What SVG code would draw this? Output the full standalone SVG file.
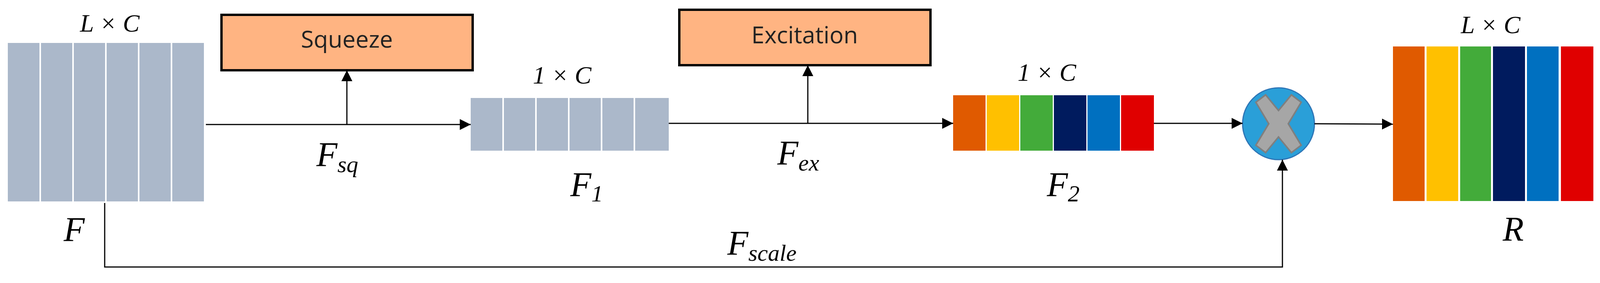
<svg xmlns="http://www.w3.org/2000/svg" width="4102" height="725" viewBox="0 0 4102 725">
<style>
.m{font-family:"Liberation Serif",serif;font-style:italic;fill:#000}
.b{font-family:"Open Sans","Liberation Sans",sans-serif;font-size:60px;fill:#222;text-anchor:middle}
.box{fill:#FFB482;stroke:#000;stroke-width:6}
.g{fill:#ABB8CA}
.ln{stroke:#000;stroke-width:3;fill:none}
</style>
<defs>
<marker id="ah" markerWidth="10" markerHeight="10" refX="9" refY="5" orient="auto" markerUnits="userSpaceOnUse" viewBox="0 0 10 10" >
<path d="M0,0 L10,5 L0,10 z" fill="#000"/>
</marker>
<marker id="a" viewBox="0 0 10 10" refX="10" refY="5" markerWidth="28" markerHeight="28" markerUnits="userSpaceOnUse" orient="auto"><path d="M0,0 L10,5 L0,10 z" fill="#000"/></marker>
</defs>
<g id="F">
<rect class="g" x="20" y="110" width="81" height="406"/><rect class="g" x="105" y="110" width="80" height="406"/><rect class="g" x="189" y="110" width="80" height="406"/><rect class="g" x="273" y="110" width="80" height="406"/><rect class="g" x="357" y="110" width="80" height="406"/><rect class="g" x="441" y="110" width="81" height="406"/>
<text class="m" x="281" y="81" font-size="64" text-anchor="middle">L × C</text>
<text class="m" x="190" y="617" font-size="88" text-anchor="middle">F</text>
</g>
<g id="squeeze"><rect class="box" x="567" y="38" width="643" height="142"/><text class="b" x="888" y="122">Squeeze</text></g>
<g id="excitation"><rect class="box" x="1739" y="25" width="643" height="142"/><text class="b" x="2060" y="111">Excitation</text></g>
<g id="F1">
<rect class="g" x="1205" y="251" width="81" height="135"/><rect class="g" x="1290" y="251" width="80" height="135"/><rect class="g" x="1374" y="251" width="80" height="135"/><rect class="g" x="1458" y="251" width="80" height="135"/><rect class="g" x="1542" y="251" width="80" height="135"/><rect class="g" x="1626" y="251" width="86" height="135"/>
<text class="m" x="1439" y="214" font-size="64" text-anchor="middle">1 × C</text>
<text class="m" x="1460" y="502" font-size="88">F<tspan font-size="60" dy="14">1</tspan></text>
</g>
<g id="F2">
<rect fill="#E05A00" x="2440" y="244" width="83" height="142"/><rect fill="#FFC000" x="2526" y="244" width="83" height="142"/><rect fill="#43AB3A" x="2612" y="244" width="83" height="142"/><rect fill="#001B5E" x="2698" y="244" width="83" height="142"/><rect fill="#0070C0" x="2784" y="244" width="83" height="142"/><rect fill="#E00000" x="2870" y="244" width="84" height="142"/>
<text class="m" x="2680" y="207" font-size="64" text-anchor="middle">1 × C</text>
<text class="m" x="2680" y="502" font-size="88">F<tspan font-size="60" dy="14">2</tspan></text>
</g>
<g id="mult">
<circle cx="3273" cy="317" r="92" fill="#2A9FD8" stroke="#2E75B6" stroke-width="3"/>
<path d="M3215,262 L3240,243 L3273,283 L3306,243 L3331,262 L3298,317 L3331,372 L3306,391 L3273,351 L3240,391 L3215,372 L3248,317 Z" fill="#A6A6A6" stroke="#7F7F7F" stroke-width="4"/>
</g>
<g id="R">
<rect fill="#E05A00" x="3566" y="119" width="81" height="396"/><rect fill="#FFC000" x="3652" y="119" width="81" height="396"/><rect fill="#43AB3A" x="3738" y="119" width="79" height="396"/><rect fill="#001B5E" x="3822" y="119" width="82" height="396"/><rect fill="#0070C0" x="3909" y="119" width="81" height="396"/><rect fill="#E00000" x="3996" y="119" width="83" height="396"/>
<text class="m" x="3816" y="85" font-size="64" text-anchor="middle">L × C</text>
<text class="m" x="3874" y="616" font-size="88" text-anchor="middle">R</text>
</g>
<g id="connectors">
<line class="ln" x1="527" y1="319" x2="1205" y2="319" marker-end="url(#a)"/>
<line class="ln" x1="888" y1="319" x2="888" y2="180" marker-end="url(#a)"/>
<line class="ln" x1="1712" y1="316" x2="2440" y2="316" marker-end="url(#a)"/>
<line class="ln" x1="2068" y1="316" x2="2068" y2="167" marker-end="url(#a)"/>
<line class="ln" x1="2954" y1="316" x2="3181" y2="316" marker-end="url(#a)"/>
<line class="ln" x1="3365" y1="317" x2="3566" y2="318" marker-end="url(#a)"/>
<polyline class="ln" points="268,520 268,684 3283,684 3283,409" marker-end="url(#a)"/>
<text class="m" x="810" y="425" font-size="88">F<tspan font-size="60" dy="16">sq</tspan></text>
<text class="m" x="1990" y="421" font-size="88">F<tspan font-size="60" dy="16">ex</tspan></text>
<text class="m" x="1862" y="652" font-size="88">F<tspan font-size="60" dy="16">scale</tspan></text>
</g>
</svg>
